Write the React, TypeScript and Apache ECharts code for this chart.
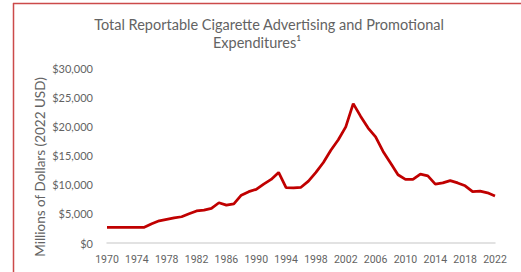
import React, { useEffect, useRef } from "react";
import * as echarts from "echarts";

const years: string[] = [];
for (let y = 1970; y <= 2022; y++) years.push(String(y));

const expenditures: number[] = [
  2700, 2700, 2700, 2700, 2700, 2700, // 1970-1975
  3300, 3800, 4050, 4300, 4500, // 1976-1980
  5000, 5500, 5650, 5950, 6900, // 1981-1985
  6500, 6700, 8200, 8800, 9200, // 1986-1990
  10100, 10900, 12100, 9500, 9450, // 1991-1995
  9550, 10600, 12100, 13800, 15900, // 1996-2000
  17700, 19900, 23900, 21700, 19700, // 2001-2005
  18200, 15700, 13700, 11700, 10900, // 2006-2010
  10900, 11800, 11500, 10100, 10300, // 2011-2015
  10700, 10300, 9800, 8800, 8900, // 2016-2020
  8600, 8050, // 2021-2022
];

const titleLine1 = "Total Reportable Cigarette Advertising and Promotional";
const titleLine2 = "Expenditures¹";
const yAxisName = "Millions of Dollars (2022 USD)";

export default function App() {
  const ref = useRef<HTMLDivElement>(null);
  useEffect(() => {
    if (!ref.current) return;
    const chart = echarts.init(ref.current, null, { renderer: "svg" });
    const gray = "#636363";
    chart.setOption({
      animation: false,
      backgroundColor: "#ffffff",
      grid: { left: 107, right: 26, top: 68, bottom: 29, containLabel: false },
      graphic: [
        { type: "line", shape: { x1: 13.5, y1: 3, x2: 13.5, y2: 272 }, style: { stroke: "#cc4a4a", lineWidth: 1.5 } },
        { type: "line", shape: { x1: 13, y1: 3.5, x2: 521, y2: 3.5 }, style: { stroke: "#cc4a4a", lineWidth: 1.5 } },
        {
          type: "text", x: 269, y: 24,
          style: { text: titleLine1, fill: gray, font: "14.5px Lato", align: "center", verticalAlign: "middle" },
        },
        {
          type: "text", x: 257, y: 42,
          style: { text: titleLine2, fill: gray, font: "14.5px Lato", align: "center", verticalAlign: "middle" },
        },
        {
          type: "text", x: 40, y: 167, rotation: Math.PI / 2,
          style: { text: yAxisName, fill: gray, font: "13.5px Lato", align: "center", verticalAlign: "middle" },
        },
      ],
      xAxis: {
        type: "category",
        data: years,
        boundaryGap: false,
        axisLine: { show: true, lineStyle: { color: "#d9d9d9", width: 1.5 } },
        axisTick: { show: false },
        axisLabel: { interval: 3, color: gray, fontFamily: "Roboto", fontSize: 10.5, margin: 11 },
        splitLine: { show: false },
      },
      yAxis: {
        type: "value",
        min: 0,
        max: 30000,
        interval: 5000,
        axisLine: { show: false },
        axisTick: { show: false },
        splitLine: { show: false },
        axisLabel: {
          color: gray, fontFamily: "Lato", fontSize: 11, margin: 14,
          formatter: (v: number) => "$" + v.toLocaleString("en-US"),
        },
      },
      series: [
        {
          type: "line",
          data: expenditures,
          symbol: "none",
          lineStyle: { color: "#c00000", width: 2.75 },
          itemStyle: { color: "#c00000" },
        },
      ],
    });
    return () => chart.dispose();
  }, []);
  return (
    <div style={{ position: "absolute", left: 0, top: 0, width: 521, height: 272, background: "#fff" }}>
      <div ref={ref} style={{ width: 521, height: 272 }} />
    </div>
  );
}
